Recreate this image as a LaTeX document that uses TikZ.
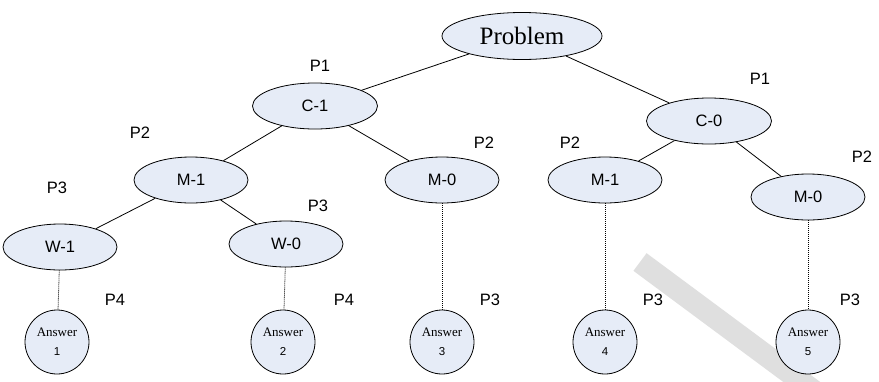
\documentclass[tikz,border=0pt]{standalone}
\usepackage{fontspec}
\setmainfont{Liberation Serif}
\setsansfont{Liberation Sans}
\usetikzlibrary{shapes.geometric}
\definecolor{nodefill}{RGB}{230,236,247}

\begin{document}
\begin{tikzpicture}[x=1pt, y=-1pt,
    state/.style={ellipse, draw, line width=0.8pt, fill=nodefill, minimum width=114pt, minimum height=46pt, inner sep=0pt, font=\sffamily\fontsize{16.5}{16.5}\selectfont},
    answer/.style={circle, draw, line width=0.8pt, fill=nodefill, minimum size=64pt, inner sep=0pt, align=center, font=\fontsize{13}{13}\selectfont},
    plabel/.style={font=\sffamily\fontsize{16.5}{16.5}\selectfont},
    link/.style={line width=0.8pt},
    trace/.style={line width=0.8pt, dash pattern=on 1pt off 1pt}
  ]
  \useasboundingbox (0,0) rectangle (879,381);

  % --- faint band across the lower right ---
  \draw[line width=22pt, gray!25] (640,262) -- (822,397);

  % --- tree ---
  \node[state, minimum width=160pt, minimum height=47pt, font=\fontsize{25}{25}\selectfont] (prob) at (522,36) {Problem};

  \node[state, minimum width=125pt] (c1) at (315,106) {C-1};
  \node[state, minimum width=125pt] (c0) at (709,121) {C-0};

  \node[state] (m1l) at (191,180) {M-1};
  \node[state] (m0l) at (442,180) {M-0};
  \node[state] (m1r) at (605,180) {M-1};
  \node[state] (m0r) at (808,197) {M-0};

  \node[state] (w1) at (60,247) {W-1};
  \node[state] (w0) at (286,244) {W-0};

  \node[answer] (a1) at (57,342) {Answer\\[6pt]{\sffamily\fontsize{11.5}{11.5}\selectfont 1}};
  \node[answer] (a2) at (283,342) {Answer\\[6pt]{\sffamily\fontsize{11.5}{11.5}\selectfont 2}};
  \node[answer] (a3) at (442,342) {Answer\\[6pt]{\sffamily\fontsize{11.5}{11.5}\selectfont 3}};
  \node[answer] (a4) at (605,342) {Answer\\[6pt]{\sffamily\fontsize{11.5}{11.5}\selectfont 4}};
  \node[answer] (a5) at (808,342) {Answer\\[6pt]{\sffamily\fontsize{11.5}{11.5}\selectfont 5}};

  % --- branches ---
  \draw[link] (prob) -- (c1);
  \draw[link] (prob) -- (c0);
  \draw[link] (c1) -- (m1l);
  \draw[link] (c1) -- (m0l);
  \draw[link] (c0) -- (m1r);
  \draw[link] (c0) -- (m0r);
  \draw[link] (m1l) -- (w1);
  \draw[link] (m1l) -- (w0);

  % --- dotted leads to answers ---
  \draw[trace] (w1) -- (a1);
  \draw[trace] (w0) -- (a2);
  \draw[trace] (m0l) -- (a3);
  \draw[trace] (m1r) -- (a4);
  \draw[trace] (m0r) -- (a5);

  % --- priority labels ---
  \node[plabel] (p1l) at (320,66) {P1};
  \node[plabel] (p1r) at (760,79) {P1};
  \node[plabel] (p2a) at (140,133) {P2};
  \node[plabel] (p2b) at (484,143) {P2};
  \node[plabel] (p2c) at (570,143) {P2};
  \node[plabel] (p2d) at (862,157) {P2};
  \node[plabel] (p3a) at (57,188) {P3};
  \node[plabel] (p3b) at (318,206) {P3};
  \node[plabel] (p4a) at (115,300) {P4};
  \node[plabel] (p4b) at (344,300) {P4};
  \node[plabel] (p3c) at (490,300) {P3};
  \node[plabel] (p3d) at (653,300) {P3};
  \node[plabel] (p3e) at (850,300) {P3};
\end{tikzpicture}
\end{document}
